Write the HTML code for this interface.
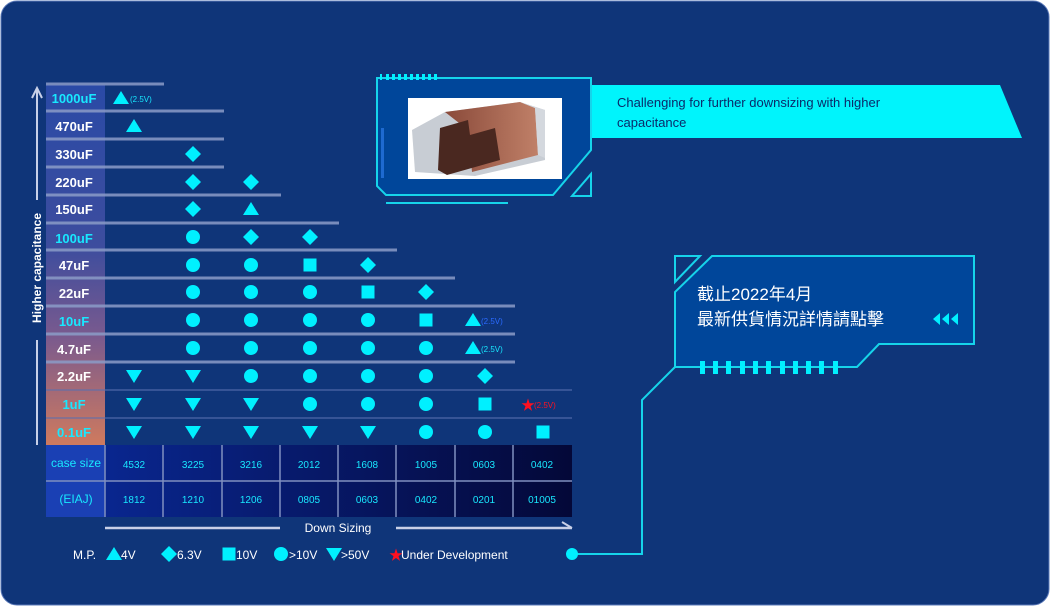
<!DOCTYPE html>
<html><head><meta charset="utf-8"><style>
html,body{margin:0;padding:0;background:#fff;}
svg{display:block;}
text{font-family:"Liberation Sans","Noto Sans CJK TC",sans-serif;}
</style></head><body>
<svg width="1050" height="606" viewBox="0 0 1050 606" xmlns="http://www.w3.org/2000/svg">
<defs>
<linearGradient id="lab" x1="0" y1="0" x2="0" y2="1">
<stop offset="0" stop-color="#2a4aa6"/><stop offset="0.45" stop-color="#3d4d9e"/><stop offset="0.7" stop-color="#7a5a8e"/><stop offset="1" stop-color="#cf7a5e"/></linearGradient>
<linearGradient id="tab" x1="0" y1="0" x2="1" y2="0">
<stop offset="0" stop-color="#0a2a9a"/><stop offset="1" stop-color="#040838"/></linearGradient>
<linearGradient id="cu" x1="0" y1="0" x2="1" y2="0">
<stop offset="0" stop-color="#8a4a3a"/><stop offset="1" stop-color="#c08068"/></linearGradient>
<g id="cir"><circle r="7" fill="#00f0ff"/></g>
<g id="dia"><polygon points="0,-8 8,0 0,8 -8,0" fill="#00f0ff"/></g>
<g id="sq"><rect x="-6.5" y="-6.5" width="13" height="13" fill="#00f0ff"/></g>
<g id="up"><polygon points="0,-7 8,6 -8,6" fill="#00f0ff"/></g>
<g id="dn"><polygon points="-8,-6 8,-6 0,7" fill="#00f0ff"/></g>
</defs>
<rect x="1" y="1" width="1048" height="604" rx="16" fill="#0f3579" stroke="#5a78b8" stroke-width="1"/>

<rect x="46" y="85" width="59" height="360" fill="url(#lab)"/>
<g stroke="#8b9cc8" stroke-width="3" opacity="0.85">
<line x1="46" y1="84" x2="164" y2="84"/>
<line x1="46" y1="111" x2="224" y2="111"/>
<line x1="46" y1="139" x2="224" y2="139"/>
<line x1="46" y1="167" x2="224" y2="167"/>
<line x1="46" y1="195" x2="281" y2="195"/>
<line x1="46" y1="223" x2="339" y2="223"/>
<line x1="46" y1="250" x2="397" y2="250"/>
<line x1="46" y1="278" x2="455" y2="278"/>
<line x1="46" y1="306" x2="515" y2="306"/>
<line x1="46" y1="334" x2="515" y2="334"/>
<line x1="46" y1="362" x2="515" y2="362"/>
</g>
<g stroke="#5a70b0" stroke-width="1.5" opacity="0.7">
<line x1="46" y1="390" x2="572" y2="390"/>
<line x1="46" y1="418" x2="572" y2="418"/>
</g>
<g font-size="13" font-weight="bold" text-anchor="middle">
<text x="74" y="103" fill="#18e8ff">1000uF</text>
<text x="74" y="131" fill="#fff">470uF</text>
<text x="74" y="159" fill="#fff">330uF</text>
<text x="74" y="187" fill="#fff">220uF</text>
<text x="74" y="214" fill="#fff">150uF</text>
<text x="74" y="243" fill="#18e8ff">100uF</text>
<text x="74" y="270" fill="#fff">47uF</text>
<text x="74" y="298" fill="#fff">22uF</text>
<text x="74" y="326" fill="#18e8ff">10uF</text>
<text x="74" y="354" fill="#fff">4.7uF</text>
<text x="74" y="381" fill="#fff">2.2uF</text>
<text x="74" y="409" fill="#18e8ff">1uF</text>
<text x="74" y="437" fill="#18e8ff">0.1uF</text>
</g>
<line x1="37" y1="90" x2="37" y2="200" stroke="#c8d0e8" stroke-width="2"/>
<polyline points="32,98 37,88 42,98" fill="none" stroke="#c8d0e8" stroke-width="2"/>
<line x1="37" y1="340" x2="37" y2="445" stroke="#c8d0e8" stroke-width="2"/>
<text transform="translate(41,268) rotate(-90)" font-size="12" font-weight="bold" fill="#fff" text-anchor="middle">Higher capacitance</text>

<use href="#up" x="121" y="98"/><text x="130" y="102" font-size="8" fill="#18e8ff">(2.5V)</text>
<use href="#up" x="134" y="126"/>
<use href="#dia" x="193" y="154"/>
<use href="#dia" x="193" y="182"/><use href="#dia" x="251" y="182"/>
<use href="#dia" x="193" y="209"/><use href="#up" x="251" y="209"/>
<use href="#cir" x="193" y="237"/><use href="#dia" x="251" y="237"/><use href="#dia" x="310" y="237"/>
<use href="#cir" x="193" y="265"/><use href="#cir" x="251" y="265"/><use href="#sq" x="310" y="265"/><use href="#dia" x="368" y="265"/>
<use href="#cir" x="193" y="292"/><use href="#cir" x="251" y="292"/><use href="#cir" x="310" y="292"/><use href="#sq" x="368" y="292"/><use href="#dia" x="426" y="292"/>
<use href="#cir" x="193" y="320"/><use href="#cir" x="251" y="320"/><use href="#cir" x="310" y="320"/><use href="#cir" x="368" y="320"/><use href="#sq" x="426" y="320"/><use href="#up" x="473" y="320"/><text x="481" y="324" font-size="8" fill="#2a6aff">(2.5V)</text>
<use href="#cir" x="193" y="348"/><use href="#cir" x="251" y="348"/><use href="#cir" x="310" y="348"/><use href="#cir" x="368" y="348"/><use href="#cir" x="426" y="348"/><use href="#up" x="473" y="348"/><text x="481" y="352" font-size="8" fill="#18e8ff">(2.5V)</text>
<use href="#dn" x="134" y="376"/><use href="#dn" x="193" y="376"/><use href="#cir" x="251" y="376"/><use href="#cir" x="310" y="376"/><use href="#cir" x="368" y="376"/><use href="#cir" x="426" y="376"/><use href="#dia" x="485" y="376"/>
<use href="#dn" x="134" y="404"/><use href="#dn" x="193" y="404"/><use href="#dn" x="251" y="404"/><use href="#cir" x="310" y="404"/><use href="#cir" x="368" y="404"/><use href="#cir" x="426" y="404"/><use href="#sq" x="485" y="404"/>
<text x="521" y="410" font-size="14" fill="#ff1020">★</text><text x="534" y="408" font-size="8" fill="#ff1020">(2.5V)</text>
<use href="#dn" x="134" y="432"/><use href="#dn" x="193" y="432"/><use href="#dn" x="251" y="432"/><use href="#dn" x="310" y="432"/><use href="#dn" x="368" y="432"/><use href="#cir" x="426" y="432"/><use href="#cir" x="485" y="432"/><use href="#sq" x="543" y="432"/>

<rect x="46" y="445" width="526" height="72" fill="url(#tab)"/>
<rect x="46" y="445" width="59" height="72" fill="#1a40b4"/>
<g stroke="#8090c0" stroke-width="1.5">
<line x1="46" y1="481" x2="572" y2="481"/>
<line x1="105" y1="445" x2="105" y2="517"/><line x1="163" y1="445" x2="163" y2="517"/><line x1="222" y1="445" x2="222" y2="517"/><line x1="280" y1="445" x2="280" y2="517"/><line x1="338" y1="445" x2="338" y2="517"/><line x1="396" y1="445" x2="396" y2="517"/><line x1="455" y1="445" x2="455" y2="517"/><line x1="513" y1="445" x2="513" y2="517"/>
</g>
<g font-size="10" fill="#18e8ff" text-anchor="middle">
<text x="76" y="467" font-size="12">case size</text><text x="76" y="503" font-size="12">(EIAJ)</text>
<text x="134" y="468">4532</text><text x="193" y="468">3225</text><text x="251" y="468">3216</text><text x="309" y="468">2012</text><text x="367" y="468">1608</text><text x="426" y="468">1005</text><text x="484" y="468">0603</text><text x="542" y="468">0402</text>
<text x="134" y="503">1812</text><text x="193" y="503">1210</text><text x="251" y="503">1206</text><text x="309" y="503">0805</text><text x="367" y="503">0603</text><text x="426" y="503">0402</text><text x="484" y="503">0201</text><text x="542" y="503">01005</text>
</g>
<line x1="105" y1="528" x2="280" y2="528" stroke="#c8d0e8" stroke-width="2.5"/>
<line x1="396" y1="528" x2="572" y2="528" stroke="#c8d0e8" stroke-width="2.5"/>
<line x1="562" y1="522" x2="572" y2="528" stroke="#c8d0e8" stroke-width="2"/>
<text x="338" y="532" font-size="12" fill="#fff" text-anchor="middle">Down Sizing</text>
<g font-size="12" fill="#fff">
<text x="73" y="559">M.P.</text>
<use href="#up" x="114" y="554"/><text x="121" y="559">4V</text>
<use href="#dia" x="169" y="554"/><text x="177" y="559">6.3V</text>
<use href="#sq" x="229" y="554"/><text x="236" y="559">10V</text>
<use href="#cir" x="281" y="554"/><text x="289" y="559">&gt;10V</text>
<use href="#dn" x="334" y="554"/><text x="341" y="559">&gt;50V</text>
<text x="389" y="560" font-size="14" fill="#ff1020">★</text><text x="401" y="559">Under Development</text>
</g>
<polyline points="572,554 642,554 642,400 675,367" fill="none" stroke="#16d4ea" stroke-width="2"/>
<circle cx="572" cy="554" r="6" fill="#00f0ff"/>

<polygon points="712,256 974,256 974,344 879,344 857,367 675,367 675,292" fill="#00469a" stroke="#16d4ea" stroke-width="2"/>
<polygon points="675,256 700,256 675,282" fill="none" stroke="#16d4ea" stroke-width="2"/>
<g fill="#00f0ff"><rect x="700" y="361" width="5" height="13"/><rect x="713" y="361" width="5" height="13"/><rect x="726" y="361" width="5" height="13"/><rect x="740" y="361" width="5" height="13"/><rect x="753" y="361" width="5" height="13"/><rect x="766" y="361" width="5" height="13"/><rect x="780" y="361" width="5" height="13"/><rect x="793" y="361" width="5" height="13"/><rect x="806" y="361" width="5" height="13"/><rect x="819" y="361" width="5" height="13"/><rect x="833" y="361" width="5" height="13"/></g>
<text x="697" y="300" font-size="17" fill="#fff">截止2022年4月</text>
<text x="697" y="325" font-size="17" fill="#fff">最新供貨情況詳情請點擊</text>
<g fill="#00f0ff"><polygon points="933,319 940,313 940,325"/><polygon points="942,319 949,313 949,325"/><polygon points="951,319 958,313 958,325"/></g>

<polygon points="591,85 1000,85 1022,138 591,138" fill="#00f4fc"/>
<text x="617" y="107" font-size="13" fill="#0a2a6a">Challenging for further downsizing with higher</text>
<text x="617" y="127" font-size="13" fill="#0a2a6a">capacitance</text>
<polygon points="377,78 591,78 591,150 553,195 386,195 377,186" fill="#00469a" stroke="#16d4ea" stroke-width="2"/>
<g fill="#00f0ff"><rect x="380" y="74" width="2" height="6"/><rect x="386" y="74" width="3" height="6"/><rect x="392" y="74" width="3" height="6"/><rect x="398" y="74" width="3" height="6"/><rect x="404" y="74" width="3" height="6"/><rect x="410" y="74" width="3" height="6"/><rect x="416" y="74" width="3" height="6"/><rect x="422" y="74" width="3" height="6"/><rect x="428" y="74" width="3" height="6"/><rect x="434" y="74" width="3" height="6"/></g>
<polygon points="591,174 591,196 572,196" fill="none" stroke="#16d4ea" stroke-width="2"/>
<line x1="386" y1="203" x2="508" y2="203" stroke="#16d4ea" stroke-width="2"/>
<rect x="381" y="128" width="3" height="50" fill="#1e6ad0"/>
<rect x="408" y="98" width="154" height="81" fill="#fff"/>
<polygon points="412,130 445,112 520,102 545,110 545,160 475,176 415,172" fill="#c8cdd4"/>
<polygon points="445,112 520,102 535,108 538,155 472,172 468,130" fill="url(#cu)"/>
<polygon points="440,128 468,120 470,135 495,128 500,160 447,175 438,170" fill="#4a2820"/>
<polygon points="520,102 535,108 538,155 545,158 545,110" fill="#d4d8de"/>
</svg>
</body></html>
